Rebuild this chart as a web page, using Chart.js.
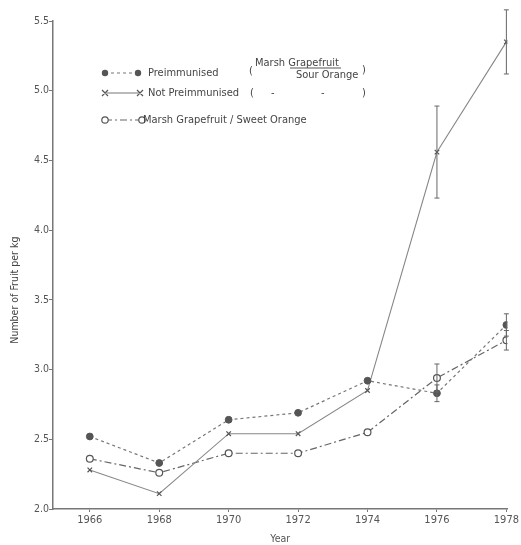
<!DOCTYPE html>
<html>
<head>
<meta charset="utf-8">
<script src="https://cdn.jsdelivr.net/npm/chart.js@4/dist/chart.umd.min.js"></script>
<style>
  html, body { margin: 0; padding: 0; background: #fff; }
  #wrap { position: relative; width: 521px; height: 545px; }
  canvas { position: absolute; left: 0; top: 0; }
  .lg { position: absolute; font-family: "DejaVu Sans Condensed", "DejaVu Sans", sans-serif; font-size: 11px; color: #444; white-space: nowrap; line-height: 1; }
  svg.s { position: absolute; overflow: visible; }
</style>
</head>
<body>
<div id="wrap">
  <canvas id="c" width="521" height="545"></canvas>
  <!-- legend -->
  <svg class="s" style="left:0;top:0" width="521" height="140">
    <line x1="105" y1="73" x2="138" y2="73" stroke="#777" stroke-width="1.2" stroke-dasharray="3,3"/>
    <circle cx="105" cy="73" r="3.2" fill="#555"/>
    <circle cx="138" cy="73" r="3.2" fill="#555"/>
    <line x1="105" y1="93" x2="140" y2="93" stroke="#777" stroke-width="1.2"/>
    <path d="M102 90 L108 96 M108 90 L102 96 M137 90 L143 96 M143 90 L137 96" stroke="#555" stroke-width="1.2"/>
    <line x1="105" y1="120" x2="142" y2="120" stroke="#666" stroke-width="1.2" stroke-dasharray="7,3,2,3"/>
    <circle cx="105" cy="120" r="3.2" fill="#fff" stroke="#555" stroke-width="1.2"/>
    <circle cx="142" cy="120" r="3.2" fill="#fff" stroke="#555" stroke-width="1.2"/>
    <line x1="290" y1="68" x2="341" y2="68" stroke="#555" stroke-width="1"/>
  </svg>
  <div class="lg" style="left:148px;top:67px">Preimmunised</div>
  <div class="lg" style="left:249px;top:65px">(</div>
  <div class="lg" style="left:255px;top:57px">Marsh Grapefruit</div>
  <div class="lg" style="left:296px;top:69px">Sour Orange</div>
  <div class="lg" style="left:362px;top:64px">)</div>
  <div class="lg" style="left:148px;top:87px">Not Preimmunised</div>
  <div class="lg" style="left:250px;top:87px">(</div>
  <div class="lg" style="left:271px;top:87px">-</div>
  <div class="lg" style="left:321px;top:87px">-</div>
  <div class="lg" style="left:362px;top:87px">)</div>
  <div class="lg" style="left:143px;top:114px">Marsh Grapefruit / Sweet Orange</div>
</div>
<script>
// ---- data ----
const years = [1966, 1968, 1970, 1972, 1974, 1976, 1978];
const preimmunised    = [2.52, 2.33, 2.64, 2.69, 2.92, 2.83, 3.32];
const notPreimmunised = [2.28, 2.11, 2.54, 2.54, 2.85, 4.56, 5.35];
const sweetOrange     = [2.36, 2.26, 2.40, 2.40, 2.55, 2.94, 3.21];
const preErr    = [0, 0, 0, 0, 0, 0.06, 0.08];
const notErr    = [0, 0, 0, 0, 0, 0.33, 0.23];
const sweetErr  = [0, 0, 0, 0, 0, 0.10, 0.07];
const yTicks = [2.0, 2.5, 3.0, 3.5, 4.0, 4.5, 5.0, 5.5];
const yTitle = "Number of Fruit per kg";
const xTitle = "Year";

const pts = (arr) => years.map((y, i) => ({ x: y, y: arr[i] }));
const FONT = '"DejaVu Sans Condensed", "DejaVu Sans", sans-serif';
const AX = '#777';

const errorBars = {
  id: 'errorBars',
  afterDatasetsDraw(chart) {
    const { ctx, scales: { x, y } } = chart;
    const sets = [[preimmunised, preErr], [notPreimmunised, notErr], [sweetOrange, sweetErr]];
    ctx.save();
    ctx.strokeStyle = '#666';
    ctx.lineWidth = 1;
    sets.forEach(([vals, errs]) => {
      vals.forEach((v, i) => {
        if (!errs[i]) return;
        const px = x.getPixelForValue(years[i]);
        const top = y.getPixelForValue(v + errs[i]);
        const bot = y.getPixelForValue(v - errs[i]);
        ctx.beginPath();
        ctx.moveTo(px, top); ctx.lineTo(px, bot);
        ctx.moveTo(px - 2.5, top); ctx.lineTo(px + 2.5, top);
        ctx.moveTo(px - 2.5, bot); ctx.lineTo(px + 2.5, bot);
        ctx.stroke();
      });
    });
    ctx.restore();
  }
};

const yLabel = {
  id: 'yLabel',
  afterDraw(chart) {
    const { ctx, scales: { y } } = chart;
    ctx.save();
    ctx.translate(15, y.getPixelForValue(3.57));
    ctx.rotate(-Math.PI / 2);
    ctx.font = '10.5px ' + FONT;
    ctx.fillStyle = '#444';
    ctx.textAlign = 'center';
    ctx.textBaseline = 'middle';
    ctx.fillText(yTitle, 0, 0);
    ctx.restore();
  }
};

new Chart(document.getElementById('c'), {
  type: 'line',
  data: {
    datasets: [
      {
        label: 'Preimmunised',
        data: pts(preimmunised),
        borderColor: '#777', borderWidth: 1.2, borderDash: [3, 3],
        pointStyle: 'circle', pointRadius: 3.4,
        pointBackgroundColor: '#555', pointBorderColor: '#555', pointBorderWidth: 1
      },
      {
        label: 'Not Preimmunised',
        data: pts(notPreimmunised),
        borderColor: '#888', borderWidth: 1.1,
        pointStyle: 'crossRot', pointRadius: 3.2,
        pointBorderColor: '#555', pointBorderWidth: 1.2
      },
      {
        label: 'Marsh Grapefruit / Sweet Orange',
        data: pts(sweetOrange),
        borderColor: '#666', borderWidth: 1.2, borderDash: [7, 3, 2, 3],
        pointStyle: 'circle', pointRadius: 3.4,
        pointBackgroundColor: '#fff', pointBorderColor: '#555', pointBorderWidth: 1.2
      }
    ]
  },
  options: {
    responsive: false,
    animation: false,
    devicePixelRatio: 1,
    layout: { padding: { left: 0, right: 12, top: 21, bottom: 0 } },
    plugins: { legend: { display: false }, tooltip: { enabled: false } },
    scales: {
      x: {
        type: 'linear',
        min: 1964.94, max: 1978.03,
        afterBuildTicks: (s) => { s.ticks = years.map(v => ({ value: v })); },
        afterFit: (s) => { s.height = 36; },
        grid: { drawOnChartArea: false, tickLength: 3, color: AX },
        border: { display: true, color: AX, width: 1.5 },
        ticks: {
          color: '#555', padding: 2,
          font: { family: FONT, size: 11 },
          callback: (v) => String(v),
          maxRotation: 0
        },
        title: { display: true, text: xTitle, color: '#555', font: { family: FONT, size: 10.5, lineHeight: 1 }, padding: { top: 0, bottom: 0 } }
      },
      y: {
        min: 2.0, max: 5.5,
        afterBuildTicks: (s) => { s.ticks = yTicks.map(v => ({ value: v })); },
        afterFit: (s) => { s.width = 53; },
        grid: { drawOnChartArea: false, tickLength: 4, color: AX },
        border: { display: true, color: AX, width: 1.5 },
        ticks: {
          color: '#555', padding: 0,
          font: { family: FONT, size: 10.5 },
          callback: (v) => Number(v).toFixed(1)
        }
      }
    }
  },
  plugins: [errorBars, yLabel]
});
</script>
</body>
</html>
